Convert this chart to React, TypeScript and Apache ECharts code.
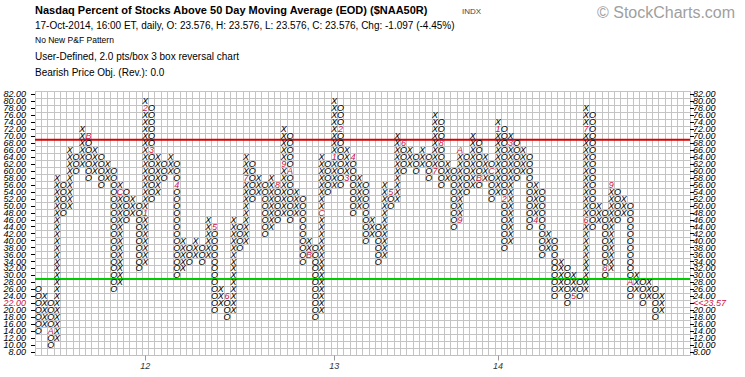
import React, { useEffect, useRef } from 'react';
import * as echarts from 'echarts';

// Price box labels (2.0 pts/box)
const priceLabels = ['8.00','10.00','12.00','14.00','16.00','18.00','20.00','22.00','24.00','26.00','28.00','30.00','32.00','34.00','36.00','38.00','40.00','42.00','44.00','46.00','48.00','50.00','52.00','54.00','56.00','58.00','60.00','62.00','64.00','66.00','68.00','70.00','72.00','74.00','76.00','78.00','80.00','82.00'];
const boxSize = 2;
const lowestBox = 8;
const columnCount = 104;
const firstColumnType = 'O';

// P&F columns: first and last box price of each column (alternating O / X)
const colStart = [26,16,22,12,56,50,64,62,70,60,64,58,60,28,54,48,50,34,78,54,62,60,62,32,38,36,38,36,44,22,24,20,44,40,62,54,56,44,56,48,70,48,52,36,38,20,62,56,78,58,64,50,56,42,44,36,54,52,68,62,64,62,64,60,74,58,60,46,64,56,68,58,62,54,72,40,68,60,64,46,54,38,40,26,32,24,28,26,76,46,48,32,54,48,50,26,28,24,26,20];
const colEnd =   [14,24,10,58,48,66,60,72,58,66,56,62,26,56,46,52,32,80,52,64,58,64,30,40,34,40,34,46,20,26,18,46,38,64,52,58,42,58,46,72,46,54,34,40,18,64,54,80,56,66,48,58,40,46,34,56,50,70,60,66,60,66,58,76,56,62,44,66,54,70,56,64,52,74,38,70,58,66,44,56,36,42,24,34,22,30,24,78,44,50,30,56,46,52,24,30,22,28,18,24];

// Month markers (1-9, A=Oct, B=Nov, C=Dec)
const markCol =   [2,8,13,17,17,18,22,28,30,33,38,39,40,43,45,47,48,49,50,56,58,63,64,67,67,70,72,73,74,75,79,85,87,87,90,91,94];
const markPrice = [14,70,54,48,78,66,56,44,24,58,56,62,60,36,48,64,72,58,64,54,68,60,68,46,66,58,60,72,52,68,46,24,46,72,32,56,28];
const markText =  ['A','B','C','1','2','3','4','5','6','7','8','9','A','B','C','1','2','3','4','5','6','7','8','9','A','B','C','1','2','3','4','5','6','7','8','9','A'];

// Year labels on the x axis
const yearCols = [17, 47, 73];
const yearTexts = ['12', '13', '14'];

// Reference levels
const upperLevel = 69;
const lowerLevel = 29;
const lastPriceLabel = '<<23.57';
const lastPriceBox = '22.00';

const RED = '#cc1144';
const FAMILY = '"Liberation Sans", Arial, sans-serif';
const GLYPH_FONT = 'italic 9px ' + FAMILY;

export default function App() {
  const ref = useRef<HTMLDivElement>(null);
  useEffect(() => {
    const chart = echarts.init(ref.current!, undefined, { renderer: 'svg' });

    const boxes: number[][] = [];
    const texts: string[] = [];
    const isMark: boolean[] = [];
    for (let c = 0; c < colStart.length; c++) {
      const type = (c % 2 === 0) === (firstColumnType === 'O') ? 'O' : 'X';
      const s = colStart[c];
      const e = colEnd[c];
      const step = e >= s ? boxSize : -boxSize;
      for (let p = s; step > 0 ? p <= e : p >= e; p += step) {
        let t = type;
        let m = false;
        for (let k = 0; k < markCol.length; k++) {
          if (markCol[k] === c && markPrice[k] === p) { t = markText[k]; m = true; }
        }
        boxes.push([c, (p - lowestBox) / boxSize]);
        texts.push(t);
        isMark.push(m);
      }
    }

    const colCats = Array.from({ length: columnCount }, (_, i) => String(i));

    const yCommon = {
      type: 'category' as const,
      data: priceLabels,
      boundaryGap: true,
      axisLine: { show: false },
      axisTick: { show: true, alignWithLabel: true, length: 4, lineStyle: { color: '#000', width: 1 } },
    };

    const option: any = {
      animation: false,
      backgroundColor: '#ffffff',
      grid: { left: 35, right: 55, top: 91, bottom: 21.5, containLabel: false },
      xAxis: [
        {
          type: 'category',
          data: colCats,
          boundaryGap: true,
          axisLine: { show: true, lineStyle: { color: '#c0c0c0' } },
          axisTick: {
            show: true,
            alignWithLabel: true,
            length: 5,
            interval: (i: number) => yearCols.indexOf(i) >= 0,
            lineStyle: { color: '#999' },
          },
          axisLabel: {
            interval: 0,
            margin: 6,
            formatter: (_v: string, i: number) => {
              const k = yearCols.indexOf(i);
              return k >= 0 ? yearTexts[k] : '';
            },
            color: '#333',
            fontSize: 9,
            fontStyle: 'italic',
            fontFamily: FAMILY,
          },
          splitLine: { show: true, interval: 0, lineStyle: { color: '#c4c4c4', width: 1 } },
        },
      ],
      yAxis: [
        {
          ...yCommon,
          position: 'left',
          axisLabel: {
            interval: 0,
            margin: 9,
            fontSize: 9,
            lineHeight: 7,
            fontStyle: 'italic',
            fontFamily: FAMILY,
            color: (v: string) => (v === lastPriceBox ? RED : '#000'),
          },
          splitLine: { show: true, interval: 0, lineStyle: { color: '#c4c4c4', width: 1 } },
        },
        {
          ...yCommon,
          position: 'right',
          axisLabel: {
            interval: 0,
            margin: 3,
            fontSize: 9,
            lineHeight: 7,
            fontStyle: 'italic',
            fontFamily: FAMILY,
            formatter: (v: string) => (v === lastPriceBox ? lastPriceLabel : v),
            color: (v: string) => (v === lastPriceBox ? RED : '#000'),
          },
          splitLine: { show: false },
        },
        { type: 'value', min: 7, max: 83, show: false },
      ],
      series: [
        {
          type: 'custom',
          xAxisIndex: 0,
          yAxisIndex: 2,
          z: 3,
          data: [[0, upperLevel], [0, lowerLevel]],
          renderItem: (params: any, api: any) => {
            const y = api.coord([0, api.value(1)])[1];
            const cs = params.coordSys;
            return {
              type: 'line',
              shape: { x1: cs.x, y1: y, x2: cs.x + cs.width, y2: y },
              style: { stroke: params.dataIndex === 0 ? '#dd0000' : '#00cc00', lineWidth: 2 },
            };
          },
        },
        {
          type: 'custom',
          xAxisIndex: 0,
          yAxisIndex: 0,
          z: 5,
          data: boxes,
          encode: { x: 0, y: 1 },
          renderItem: (params: any, api: any) => {
            const p = api.coord([api.value(0), api.value(1)]);
            const i = params.dataIndex;
            return {
              type: 'text',
              x: p[0],
              y: p[1],
              style: {
                text: texts[i],
                fill: isMark[i] ? RED : '#000',
                font: GLYPH_FONT,
                lineHeight: 7,
                align: 'center',
                verticalAlign: 'middle',
              },
            };
          },
        },
      ],
      graphic: [
        { type: 'text', left: 35, top: 4, style: { text: 'Nasdaq Percent of Stocks Above 50 Day Moving Average (EOD) ($NAA50R)', font: 'bold 11px ' + FAMILY, fill: '#000' } },
        { type: 'text', left: 462, top: 7, style: { text: 'INDX', font: '8px ' + FAMILY, fill: '#444' } },
        { type: 'text', left: 35, top: 20, style: { text: '17-Oct-2014, 16:00 ET, daily, O: 23.576, H: 23.576, L: 23.576, C: 23.576, Chg: -1.097 (-4.45%)', font: '10px ' + FAMILY, fill: '#000' } },
        { type: 'text', left: 35, top: 35, style: { text: 'No New P&F Pattern', font: '8.5px ' + FAMILY, fill: '#000' } },
        { type: 'text', left: 35, top: 51, style: { text: 'User-Defined, 2.0 pts/box 3 box reversal chart', font: '10px ' + FAMILY, fill: '#000' } },
        { type: 'text', left: 35, top: 67, style: { text: 'Bearish Price Obj. (Rev.): 0.0', font: '10px ' + FAMILY, fill: '#000' } },
        { type: 'text', left: 597, top: 4, style: { text: '\u00A9 StockCharts.com', font: '16px ' + FAMILY, fill: '#a0a0a0' } },
      ],
    };

    chart.setOption(option);
    return () => chart.dispose();
  }, []);

  return (
    <div
      ref={ref}
      style={{ position: 'fixed', left: 0, top: 0, width: 745, height: 377, background: '#fff' }}
    />
  );
}
